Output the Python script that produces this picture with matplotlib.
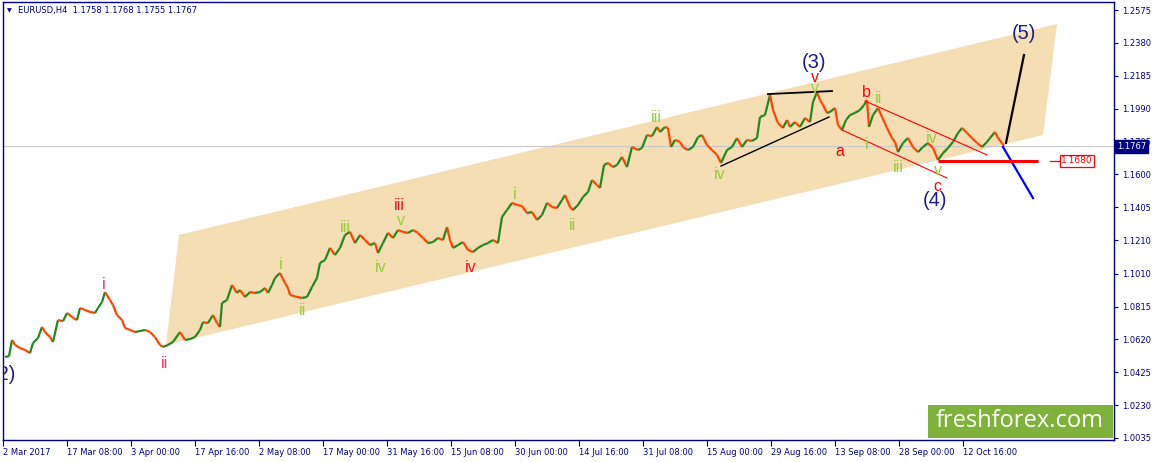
import matplotlib
matplotlib.use('Agg')
import matplotlib.pyplot as plt
from matplotlib.collections import LineCollection
from matplotlib.patches import Polygon, Rectangle

# H4 bar number (from first visible bar) and close price
bars = [2, 6, 9, 12, 17, 22, 27, 30, 35, 39, 42, 47, 50, 55, 60, 64, 69, 74, 77, 82,
        87, 92, 95, 99, 102, 107, 110, 114, 119, 122, 127, 132, 137, 142, 147, 152, 157, 160, 165, 170,
        177, 182, 187, 192, 197, 200, 205, 210, 214, 217, 219, 224, 229, 234, 237, 242, 247, 252, 257, 262,
        265, 269, 272, 277, 282, 285, 287, 294, 299, 304, 309, 314, 317, 322, 327, 332, 337, 342, 347, 352,
        357, 362, 367, 372, 375, 380, 385, 390, 395, 400, 405, 410, 415, 420, 425, 430, 435, 440, 444, 447,
        450, 455, 460, 465, 470, 475, 480, 485, 490, 495, 499, 504, 509, 514, 519, 524, 529, 534, 539, 544,
        549, 554, 559, 562, 567, 570, 575, 580, 585, 589, 594, 597, 601, 605, 610, 614, 619, 624, 629, 635,
        639, 644, 649, 654, 657, 662, 665, 668, 672, 677, 680, 685, 690, 695, 699, 704, 709, 714, 718, 724,
        729, 734, 739, 744, 749, 754, 757, 762, 767, 770, 775, 780, 784, 787, 792, 797, 802, 807, 810, 814,
        817, 820, 824, 827, 832, 835, 839, 843, 847, 852, 857, 861, 864, 866, 870, 875, 879, 884, 889, 892,
        895, 900, 905, 910, 915, 920, 925, 930, 935, 940, 945, 950, 955, 959, 964, 969, 974, 979, 984, 987,
        992, 995, 999, 1001]
closes = [1.0516, 1.0520, 1.0617, 1.0587, 1.0569, 1.0557, 1.0539, 1.0599, 1.0628, 1.0694,
          1.0664, 1.0634, 1.0605, 1.0735, 1.0728, 1.0777, 1.0753, 1.0735, 1.0806, 1.0795,
          1.0783, 1.0777, 1.0806, 1.0842, 1.0901, 1.0854, 1.0824, 1.0765, 1.0735, 1.0688,
          1.0676, 1.0664, 1.0670, 1.0676, 1.0664, 1.0634, 1.0587, 1.0575, 1.0587, 1.0605,
          1.0664, 1.0617, 1.0622, 1.0634, 1.0676, 1.0723, 1.0717, 1.0765, 1.0717, 1.0694,
          1.0836, 1.0854, 1.0943, 1.0896, 1.0913, 1.0872, 1.0901, 1.0896, 1.0901, 1.0925,
          1.0896, 1.0943, 1.0985, 1.1014, 1.0955, 1.0925, 1.0884, 1.0872, 1.0866, 1.0872,
          1.0931, 1.0985, 1.1074, 1.1091, 1.1163, 1.1121, 1.1163, 1.1240, 1.1258, 1.1192,
          1.1240, 1.1210, 1.1180, 1.1192, 1.1133, 1.1192, 1.1252, 1.1222, 1.1269, 1.1258,
          1.1252, 1.1269, 1.1252, 1.1222, 1.1192, 1.1198, 1.1222, 1.1210, 1.1287, 1.1210,
          1.1163, 1.1180, 1.1198, 1.1151, 1.1139, 1.1163, 1.1180, 1.1192, 1.1210, 1.1192,
          1.1347, 1.1388, 1.1430, 1.1418, 1.1412, 1.1370, 1.1376, 1.1329, 1.1358, 1.1430,
          1.1406, 1.1400, 1.1447, 1.1477, 1.1406, 1.1388, 1.1418, 1.1465, 1.1495, 1.1566,
          1.1536, 1.1519, 1.1655, 1.1667, 1.1643, 1.1655, 1.1703, 1.1643, 1.1762, 1.1744,
          1.1756, 1.1833, 1.1826, 1.1881, 1.1851, 1.1881, 1.1875, 1.1762, 1.1804, 1.1792,
          1.1762, 1.1744, 1.1762, 1.1821, 1.1833, 1.1774, 1.1744, 1.1715, 1.1667, 1.1744,
          1.1762, 1.1815, 1.1762, 1.1804, 1.1798, 1.1815, 1.1940, 1.1952, 1.2071, 1.1982,
          1.1904, 1.1875, 1.1922, 1.1881, 1.1910, 1.1881, 1.1934, 1.1910, 1.2029, 1.2088,
          1.2041, 1.2011, 1.1964, 1.1970, 1.1993, 1.1892, 1.1863, 1.1922, 1.1952, 1.1964,
          1.1982, 1.2011, 1.2041, 1.1881, 1.1952, 1.1993, 1.1940, 1.1875, 1.1815, 1.1792,
          1.1732, 1.1786, 1.1815, 1.1762, 1.1732, 1.1762, 1.1786, 1.1756, 1.1685, 1.1726,
          1.1756, 1.1792, 1.1845, 1.1875, 1.1845, 1.1815, 1.1786, 1.1762, 1.1792, 1.1815,
          1.1851, 1.1815, 1.1786, 1.1767]

date_labels = ['2 Mar 2017', '17 Mar 08:00', '3 Apr 00:00', '17 Apr 16:00', '2 May 08:00',
               '17 May 00:00', '31 May 16:00', '15 Jun 08:00', '30 Jun 00:00', '14 Jul 16:00',
               '31 Jul 08:00', '15 Aug 00:00', '29 Aug 16:00', '13 Sep 08:00', '28 Sep 00:00',
               '12 Oct 16:00']
bars_per_label = 64
price_ticks = [1.2575, 1.2380, 1.2185, 1.1990, 1.1795, 1.1600, 1.1405, 1.1210, 1.1010,
               1.0815, 1.0620, 1.0425, 1.0230, 1.0035]
last_price = 1.1767
ohlc_text = 'EURUSD,H4  1.1758 1.1768 1.1755 1.1767'

# drawn objects (bar, price)
channel = [(176, 1.1240), (1054, 1.2492), (1040, 1.1833), (163, 1.0587)]
triangle_low = [(718, 1.1649), (826, 1.1940)]
triangle_top = [(765, 1.2076), (829, 1.2094)]
corr_low = [(839, 1.1863), (944, 1.1578)]
corr_top = [(862, 1.2035), (984, 1.1715)]
path_up = [(1003, 1.1786), (1021, 1.2308)]
path_down = [(1000, 1.1762), (1030, 1.1459)]
level = 1.1680
level_bars = (935, 1035)

# wave labels: text, bar, price, kind
waves = [
    ('(2)', 13, 1.0409, 'major'), ('i', 101, 1.0943, 'pink'), ('ii', 161, 1.0480, 'pink'),
    ('i', 278, 1.1062, 'minor'), ('ii', 299, 1.0789, 'minor'), ('iii', 342, 1.1287, 'minor'),
    ('iv', 378, 1.1044, 'minor'), ('v', 398, 1.1323, 'minor'), ('iii', 396, 1.1412, 'mid'),
    ('iv', 468, 1.1044, 'mid'), ('i', 512, 1.1483, 'minor'), ('ii', 569, 1.1299, 'minor'),
    ('iii', 653, 1.1940, 'minor'), ('iv', 717, 1.1596, 'minor'), ('v', 812, 1.2112, 'minor'),
    ('v', 812, 1.2177, 'red'), ('(3)', 811, 1.2266, 'major'), ('a', 837, 1.1738, 'red'),
    ('b', 863, 1.2088, 'red'), ('i', 864, 1.1774, 'minor'), ('ii', 876, 1.2047, 'minor'),
    ('iii', 895, 1.1643, 'minor'), ('iv', 929, 1.1815, 'minor'), ('v', 935, 1.1625, 'minor'),
    ('c', 934, 1.1525, 'red'), ('(4)', 932, 1.1447, 'major'), ('(5)', 1021, 1.2438, 'major'),
]
wave_style = {
    'major': ('#1c1c84', 14.5),
    'pink': ('#f2306e', 11.5),
    'mid': ('#e8162e', 11.5),
    'red': ('#ff0000', 11.5),
    'minor': ('#96cc3a', 11.5),
}

NAVY = '#000080'
W, H = 1155, 462
fig = plt.figure(figsize=(W / 100, H / 100), dpi=100)
ax = fig.add_axes([3 / W, 1 - 440 / H, 1111 / W, 438 / H])
ax.set_xlim(0, 1111)
ax.set_ylim(1.00231, 1.26225)
for s in ax.spines.values():
    s.set_color(NAVY)
    s.set_linewidth(1)

ax.add_patch(Polygon(channel, closed=True, facecolor='#f5deb3', edgecolor='none', zorder=1))
ax.axhline(last_price, color='#c8c8c8', lw=0.8, zorder=1.5)

# price bars, coloured by direction
segs = []
cols = []
for i in range(1, len(bars)):
    segs.append([(bars[i - 1], closes[i - 1]), (bars[i], closes[i])])
    if closes[i] > closes[i - 1]:
        cols.append('#1f8a1f')
    elif closes[i] < closes[i - 1]:
        cols.append('#ff4500')
    else:
        cols.append('black')
ax.add_collection(LineCollection(segs, colors=cols, linewidths=1.6, zorder=3))

for pts, c, lw in [(triangle_low, 'black', 1.0), (triangle_top, 'black', 1.3),
                   (corr_low, 'red', 0.8), (corr_top, 'red', 0.8),
                   (path_up, 'black', 1.6), (path_down, '#0000ff', 1.6)]:
    ax.plot([p[0] for p in pts], [p[1] for p in pts], color=c, lw=lw, zorder=4)
ax.plot(level_bars, [level, level], color='red', lw=2.2, zorder=4, solid_capstyle='butt')
ax.plot([1047, 1056], [level, level], color='red', lw=0.9, zorder=4)
ax.text(1058, level, '1.1680', color='red', fontsize=6.5, ha='left', va='center', zorder=6,
        bbox=dict(boxstyle='square,pad=0.15', fc='white', ec='red', lw=0.9))

for txt, b, p, kind in waves:
    c, fs = wave_style[kind]
    ax.text(b, p, txt, color=c, fontsize=fs, ha='right' if txt == '(2)' else 'center',
            va='center', family='Liberation Sans', zorder=5, clip_on=True)

# axes ticks
ax.yaxis.tick_right()
ax.set_yticks(price_ticks)
ax.set_yticklabels(['%.4f' % v for v in price_ticks])
ax.tick_params(axis='y', direction='out', length=3, width=0.8, colors=NAVY, labelsize=6, pad=3)
ax.set_xticks([0.4 + bars_per_label * k for k in range(len(date_labels))])
ax.set_xticklabels(date_labels)
ax.tick_params(axis='x', direction='out', length=4, width=0.8, colors=NAVY, labelsize=6, pad=2)
for lbl in ax.get_xticklabels():
    lbl.set_ha('left')

ax.text(1.0028, last_price, '1.1767', transform=ax.get_yaxis_transform(), ha='left', va='center',
        color='white', fontsize=6, zorder=10, clip_on=False,
        bbox=dict(boxstyle='square,pad=0.25', fc=NAVY, ec=NAVY))

fig.text(7 / W, 1 - 11 / H, '\u25bc', color=NAVY, fontsize=4.5, ha='left', va='center')
fig.text(18 / W, 1 - 11 / H, ohlc_text, color=NAVY, fontsize=6, ha='left', va='center')

# watermark
ax.add_patch(Rectangle(((928 - 3) / 1111, 2 / 438), (1113 - 928) / 1111, 33 / 438,
                       transform=ax.transAxes, facecolor='#7fb23a', edgecolor='none', zorder=8))
ax.text((1020 - 3) / 1111, (440 - 421) / 438, 'freshforex.com', transform=ax.transAxes,
        color='white', fontsize=17, family='Open Sans', ha='center', va='center', zorder=9)

fig.savefig('out.png', dpi=100)
